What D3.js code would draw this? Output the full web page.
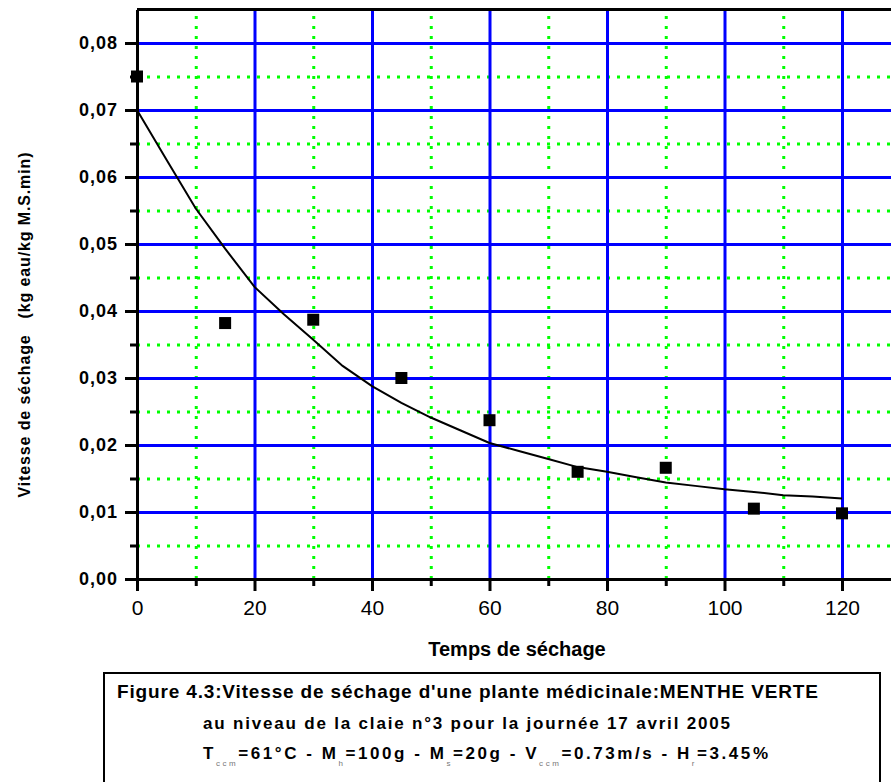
<!DOCTYPE html>
<html>
<head>
<meta charset="utf-8">
<script src="https://cdn.jsdelivr.net/npm/d3@7"></script>
<style>
  body { margin: 0; background: #fff; }
  svg { display: block; }
  text { font-family: "Liberation Sans", Arial, sans-serif; fill: #000; }
</style>
</head>
<body>
<svg id="chart" width="891" height="782"></svg>
<script>
// Measured drying rate (kg eau / kg M.S. min) at each sampling time (min)
const sampleTimes = [0, 15, 30, 45, 60, 75, 90, 105, 120];
const dryingRates = [0.0750, 0.0382, 0.0387, 0.0300, 0.0237, 0.0160, 0.0166, 0.0105, 0.0098];

// Fitted drying-rate curve
const fitTimes = [0, 5, 10, 15, 20, 25, 30, 35, 40, 45, 50, 55, 60, 65, 70, 75, 80, 85, 90, 95, 100, 105, 110, 115, 120];
const fitRates = [0.0700, 0.0626, 0.0553, 0.0493, 0.0436, 0.0395, 0.0357, 0.0318, 0.0288, 0.0263, 0.0241, 0.0222, 0.0203,
                  0.0191, 0.0179, 0.0167, 0.0160, 0.0152, 0.0144, 0.0139, 0.0134, 0.0130, 0.0125, 0.0123, 0.0120];

// Axis ticks and labels
const xMajorTicks = [0, 20, 40, 60, 80, 100, 120];
const xTickLabels = ["0", "20", "40", "60", "80", "100", "120"];
const xMinorTicks = [10, 30, 50, 70, 90, 110];
const yMajorTicks = [0, 0.01, 0.02, 0.03, 0.04, 0.05, 0.06, 0.07, 0.08];
const yTickLabels = ["0,00", "0,01", "0,02", "0,03", "0,04", "0,05", "0,06", "0,07", "0,08"];
const yMinorTicks = [0.005, 0.015, 0.025, 0.035, 0.045, 0.055, 0.065, 0.075];

const xTitle = "Temps de séchage";
const yTitle = "Vitesse de séchage\u00a0\u00a0\u00a0(kg eau/kg M.S.min)";
const captionLine1 = "Figure 4.3:Vitesse de séchage d'une plante médicinale:MENTHE VERTE";
const captionLine2 = "au niveau de la claie n°3 pour la journée 17 avril 2005";

const svg = d3.select("#chart");

const plotLeft = 137, plotTop = 9.5, plotBottom = 579;
const x = d3.scaleLinear().domain([0, 130]).range([plotLeft, plotLeft + 130 * 5.875]);
const y = d3.scaleLinear().domain([0, 0.085]).range([plotBottom, plotTop]);
const plotW = x(130) - plotLeft;
const plotH = plotBottom - plotTop;

const BLUE = "#0000ff", GREEN = "#00ff00";

// ---- grid ----
function styleGrid(g, color, dash, width) {
  g.select(".domain").remove();
  g.selectAll("text").remove();
  g.selectAll("line").attr("stroke", color).attr("stroke-width", width)
    .attr("stroke-dasharray", dash);
}
svg.append("g").attr("transform", `translate(0,${plotBottom})`)
  .call(d3.axisBottom(x).tickValues(xMinorTicks).tickSize(-plotH))
  .call(g => styleGrid(g, GREEN, "3,7", 3));
svg.append("g").attr("transform", `translate(${plotLeft},0)`)
  .call(d3.axisLeft(y).tickValues(yMinorTicks).tickSize(-plotW))
  .call(g => styleGrid(g, GREEN, "3,7", 3));
svg.append("g").attr("transform", `translate(0,${plotBottom})`)
  .call(d3.axisBottom(x).tickValues(xMajorTicks.slice(1)).tickSize(-plotH))
  .call(g => styleGrid(g, BLUE, null, 3));
svg.append("g").attr("transform", `translate(${plotLeft},0)`)
  .call(d3.axisLeft(y).tickValues(yMajorTicks.slice(1)).tickSize(-plotW))
  .call(g => styleGrid(g, BLUE, null, 3));

// top frame
svg.append("line").attr("x1", plotLeft).attr("x2", 891).attr("y1", plotTop).attr("y2", plotTop)
  .attr("stroke", "#000").attr("stroke-width", 3);

// ---- fitted curve ----
const fitData = fitTimes.map((t, i) => [t, fitRates[i]]);
svg.append("path").datum(fitData)
  .attr("fill", "none").attr("stroke", "#000").attr("stroke-width", 2)
  .attr("d", d3.line().x(d => x(d[0])).y(d => y(d[1])));

// ---- measured points ----
const sq = 12;
svg.append("g").selectAll("rect")
  .data(sampleTimes.map((t, i) => [t, dryingRates[i]]))
  .join("rect")
  .attr("x", d => x(d[0]) - sq / 2).attr("y", d => y(d[1]) - sq / 2)
  .attr("width", sq).attr("height", sq).attr("fill", "#000");

// ---- axes ----
function styleAxis(g) {
  g.select(".domain").attr("stroke", "#000").attr("stroke-width", 3);
  g.selectAll(".tick line").attr("stroke", "#000").attr("stroke-width", 3);
}
// minor ticks
svg.append("g").attr("transform", `translate(${plotLeft},0)`)
  .call(d3.axisLeft(y).tickValues(yMinorTicks).tickSize(7).tickSizeOuter(0).tickFormat(""))
  .call(styleAxis);
svg.append("g").attr("transform", `translate(0,${plotBottom})`)
  .call(d3.axisBottom(x).tickValues(xMinorTicks).tickSize(7).tickSizeOuter(0).tickFormat(""))
  .call(styleAxis);
// major ticks with labels
const yAxis = svg.append("g").attr("transform", `translate(${plotLeft},0)`)
  .call(d3.axisLeft(y).tickValues(yMajorTicks).tickSize(12).tickSizeOuter(0).tickPadding(7)
    .tickFormat((d, i) => yTickLabels[i]))
  .call(styleAxis);
yAxis.selectAll("text").attr("font-family", "Liberation Sans, Arial, sans-serif")
  .attr("font-size", 18).attr("font-weight", "bold").attr("letter-spacing", 1).attr("fill", "#000");

const xAxis = svg.append("g").attr("transform", `translate(0,${plotBottom})`)
  .call(d3.axisBottom(x).tickValues(xMajorTicks).tickSize(12).tickSizeOuter(0).tickPadding(9)
    .tickFormat((d, i) => xTickLabels[i]))
  .call(styleAxis);
xAxis.selectAll("text").attr("font-family", "Liberation Sans, Arial, sans-serif")
  .attr("font-size", 21).attr("fill", "#000");

// ---- axis titles ----
svg.append("text").attr("x", 517).attr("y", 656).attr("text-anchor", "middle")
  .attr("font-size", 20).attr("font-weight", "bold").text(xTitle);

svg.append("text").attr("transform", "translate(30,325) rotate(-90)")
  .attr("text-anchor", "middle").attr("font-size", 16).attr("font-weight", "bold")
  .attr("textLength", 345).attr("lengthAdjust", "spacing").text(yTitle);

// ---- caption box ----
svg.append("rect").attr("x", 104).attr("y", 673).attr("width", 776).attr("height", 130)
  .attr("fill", "none").attr("stroke", "#000").attr("stroke-width", 2);

svg.append("text").attr("x", 117).attr("y", 698).attr("font-size", 19).attr("font-weight", "bold")
  .attr("textLength", 701).attr("lengthAdjust", "spacing").text(captionLine1);
svg.append("text").attr("x", 203).attr("y", 729).attr("font-size", 17).attr("font-weight", "bold")
  .attr("textLength", 527).attr("lengthAdjust", "spacing").text(captionLine2);

// third caption line: operating conditions with subscripts
const conditions = [
  ["T", "ccm", "=61°C - "],
  ["M", "h", "=100g - "],
  ["M", "s", "=20g - "],
  ["V", "ccm", "=0.73m/s - "],
  ["H", "r", "=3.45%"]
];
const line3 = svg.append("text").attr("x", 203).attr("y", 759)
  .attr("font-size", 17).attr("font-weight", "bold")
  .attr("textLength", 565).attr("lengthAdjust", "spacing");
conditions.forEach(([sym, sub, rest]) => {
  line3.append("tspan").text(sym);
  line3.append("tspan").attr("dy", 7).attr("font-size", 8).attr("font-weight", "normal")
    .attr("fill", "#777").text(sub);
  line3.append("tspan").attr("dy", -7).text(rest);
});
</script>
</body>
</html>
